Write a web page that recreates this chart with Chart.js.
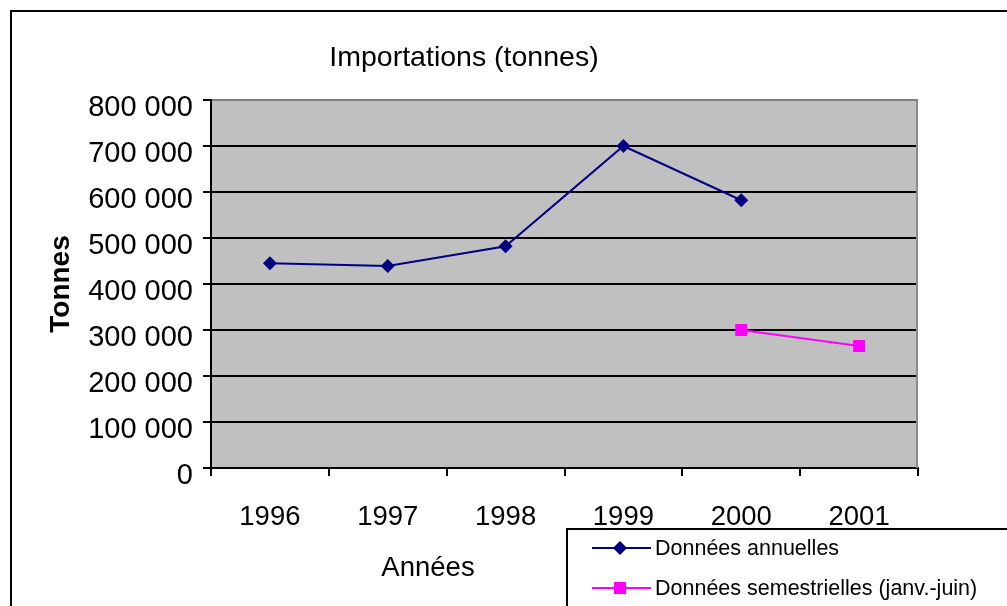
<!DOCTYPE html>
<html><head><meta charset="utf-8">
<script src="https://cdn.jsdelivr.net/npm/chart.js@4.4.1/dist/chart.umd.min.js"></script>
<style>html,body{margin:0;padding:0;background:#fff}canvas{display:block}</style>
</head><body>
<canvas id="c" width="1007" height="606"></canvas>
<script>
const categories = ['1996', '1997', '1998', '1999', '2000', '2001'];
const annualValues = [445000, 439000, 482000, 700000, 582000, null];
const semesterValues = [null, null, null, null, 300000, 265000];
const yMin = 0, yMax = 800000, yStep = 100000;
const chartTitle = 'Importations (tonnes)';
const xTitle = 'Années';
const yTitle = 'Tonnes';
const seriesNames = ['Données annuelles', 'Données semestrielles (janv.-juin)'];

const FONT = '"Liberation Sans", Arial, sans-serif';
const NAVY = '#000080', MAGENTA = '#FF00FF';
const fmt = v => String(v).replace(/\B(?=(\d{3})+(?!\d))/g, ' ');

function diamond(ctx, x, y, r, color) {
  ctx.beginPath();
  ctx.moveTo(x, y - r); ctx.lineTo(x + r, y); ctx.lineTo(x, y + r); ctx.lineTo(x - r, y);
  ctx.closePath(); ctx.fillStyle = color; ctx.fill();
}
function square(ctx, x, y, s, color) {
  ctx.fillStyle = color; ctx.fillRect(x - s / 2, y - s / 2, s, s);
}

const deco = {
  id: 'deco',
  beforeDraw(chart) {
    const { ctx, chartArea: a } = chart;
    ctx.save();
    ctx.fillStyle = '#fff'; ctx.fillRect(0, 0, chart.width, chart.height);
    ctx.fillStyle = '#C0C0C0'; ctx.fillRect(a.left, a.top, a.right - a.left, a.bottom - a.top);
    ctx.restore();
  },
  beforeDatasetsDraw(chart) {
    const { ctx, chartArea: a } = chart;
    ctx.save();
    ctx.strokeStyle = '#8a8a8a'; ctx.lineWidth = 2;
    ctx.beginPath(); ctx.moveTo(a.right - 1, a.top); ctx.lineTo(a.right - 1, a.bottom); ctx.stroke();
    ctx.restore();
  },
  afterDraw(chart) {
    const { ctx } = chart;
    ctx.save();
    ctx.fillStyle = '#000'; ctx.textAlign = 'center'; ctx.textBaseline = 'middle';
    ctx.font = '28.5px ' + FONT;
    ctx.fillText(chartTitle, 464, 58);
    ctx.font = '27.5px ' + FONT;
    ctx.fillText(xTitle, 428, 568);
    // legend box
    ctx.fillStyle = '#fff'; ctx.fillRect(567, 529, 500, 100);
    ctx.strokeStyle = '#000'; ctx.lineWidth = 2; ctx.strokeRect(567, 529, 500, 100);
    const rows = [
      { y: 548, color: NAVY, mark: 'd', label: seriesNames[0] },
      { y: 588, color: MAGENTA, mark: 's', label: seriesNames[1] }
    ];
    rows.forEach(r => {
      ctx.strokeStyle = r.color; ctx.lineWidth = 2;
      ctx.beginPath(); ctx.moveTo(592, r.y); ctx.lineTo(651, r.y); ctx.stroke();
      if (r.mark === 'd') diamond(ctx, 620, r.y, 7, r.color); else square(ctx, 620, r.y, 12, r.color);
      ctx.fillStyle = '#000'; ctx.textAlign = 'left'; ctx.textBaseline = 'middle';
      ctx.font = '21.5px ' + FONT;
      ctx.fillText(r.label, 655, r.y + 1);
    });
    ctx.strokeStyle = '#000'; ctx.lineWidth = 2;
    ctx.strokeRect(11, 11, 1200, 1200);
    ctx.restore();
  }
};

new Chart(document.getElementById('c'), {
  type: 'line',
  data: {
    labels: categories,
    datasets: [
      { label: seriesNames[0], data: annualValues, borderColor: NAVY, backgroundColor: NAVY,
        borderWidth: 2, pointStyle: 'rectRot', pointRadius: 7, pointBorderWidth: 0,
        pointBackgroundColor: NAVY, tension: 0, spanGaps: false },
      { label: seriesNames[1], data: semesterValues, borderColor: MAGENTA, backgroundColor: MAGENTA,
        borderWidth: 2, pointStyle: 'rect', pointRadius: 8.5, pointBorderWidth: 0,
        pointBackgroundColor: MAGENTA, tension: 0, spanGaps: false }
    ]
  },
  options: {
    responsive: false, animation: false,
    layout: { padding: { left: 0, top: 100, right: 89, bottom: 0 } },
    plugins: { legend: { display: false }, title: { display: false }, tooltip: { enabled: false } },
    scales: {
      x: {
        offset: true,
        grid: { offset: true, drawOnChartArea: false, drawTicks: true, tickLength: 8, color: '#000', lineWidth: 2 },
        border: { display: true, color: '#000', width: 2 },
        ticks: { color: '#000', font: { family: FONT, size: 27.5 }, padding: 25, maxRotation: 0, autoSkip: false },
        afterFit(s) { s.height = 138; }
      },
      y: {
        min: yMin, max: yMax,
        grid: {
          color: c => (c.tick && c.tick.value === yMax) ? '#808080' : '#000',
          tickColor: '#000', lineWidth: 2, tickLength: 8, drawTicks: true
        },
        border: { display: true, color: '#000', width: 2 },
        ticks: { stepSize: yStep, color: '#000', font: { family: FONT, size: 29 }, padding: 10, labelOffset: 8, callback: v => fmt(v) },
        title: { display: true, text: yTitle, color: '#000', font: { family: FONT, size: 28, weight: 'bold' }, padding: { top: 44, bottom: 0 } },
        afterFit(s) { s.width = 211; }
      }
    }
  },
  plugins: [deco]
});
</script>
</body></html>
